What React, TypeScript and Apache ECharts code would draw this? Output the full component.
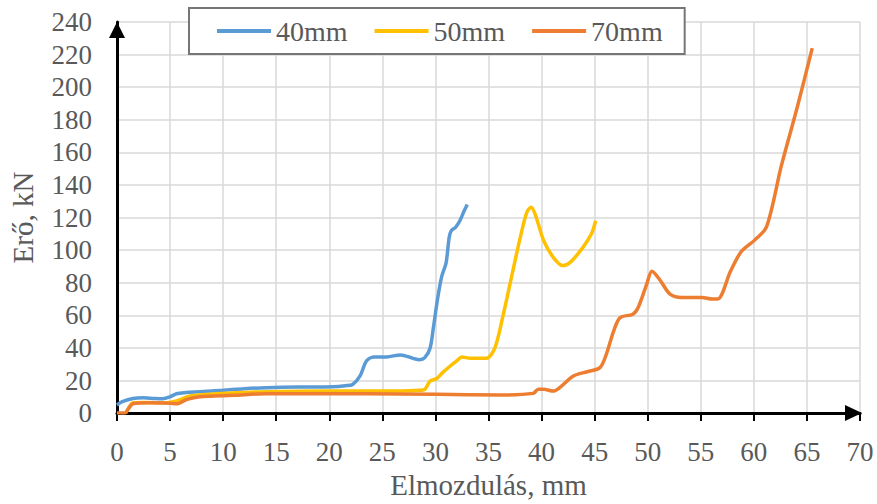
import React, { useEffect, useRef } from "react";
import * as echarts from "echarts";

const seriesNames = ["40mm", "50mm", "70mm"];

const x40 = [0, 0.5, 1.5, 2.5, 3.5, 4.3, 5.0, 5.6, 6.5, 7.8, 10, 12, 14.1, 17, 20.4, 21.5, 22.2, 22.9, 23.5, 24.2, 25.4, 26.7, 27.9, 28.5, 29.0, 29.5, 29.8, 30.2, 30.6, 31.0, 31.3, 31.5, 31.9, 32.3, 32.7, 33.0];
const y40 = [5, 7, 9, 9.4, 9, 8.8, 10, 11.9, 12.6, 13.1, 14, 15, 15.6, 16, 16.2, 16.8, 17.6, 22.8, 32, 34.5, 34.5, 35.7, 33.6, 32.8, 34, 40, 52, 70, 84, 92, 108, 112, 114, 118, 124, 128];

const x50 = [0.8, 1.1, 1.5, 2.5, 4.7, 5.6, 6.9, 9.4, 14.1, 20, 26.7, 28.5, 29.0, 29.5, 30.1, 30.7, 31.4, 32.0, 32.5, 33.3, 34.8, 35.6, 36.4, 37.3, 38.0, 38.6, 39.0, 39.4, 40.2, 41.1, 42.0, 42.7, 43.9, 44.7, 45.1];
const y50 = [0, 3, 6.3, 6.5, 6.3, 7.4, 10.5, 11.9, 13.1, 13.5, 13.5, 14, 14.6, 19.7, 21.1, 25, 28.9, 32, 34.5, 33.6, 33.6, 40, 60.7, 87.4, 108, 123, 126.3, 122, 105.8, 95.6, 90.5, 92.5, 101.7, 110, 118];

const x70 = [0, 0.75, 1.1, 1.5, 3.1, 5.0, 5.6, 6.6, 7.8, 11.0, 14.1, 23.5, 30, 36.1, 39.2, 39.7, 40.2, 41.1, 41.7, 43, 44.3, 45.5, 46.1, 46.8, 47.4, 48.6, 49.1, 49.9, 50.4, 51.2, 52.1, 53.2, 55.1, 56.1, 56.6, 57.8, 58.8, 60.1, 61.2, 62.6, 64.1, 65.5];
const y70 = [0, 0, 3, 5.7, 6.3, 6, 5.7, 8.4, 10, 10.9, 11.9, 11.9, 11.5, 11.1, 12.1, 14.6, 14.6, 13.5, 15.6, 22.8, 25.4, 27.9, 36.1, 50.5, 58.6, 60.7, 64.8, 79, 87, 81.2, 73, 71, 71, 70, 70, 87, 99, 106.3, 114.4, 152, 188, 224];

const xTitle = "Elmozdulás, mm";
const yTitle = "Erő, kN";
const colors = ["#5b9bd5", "#ffc000", "#ed7d31"];

const FONT = "'Liberation Serif', 'Times New Roman', serif";

function pairs(xs: number[], ys: number[]) {
  return xs.map((x, i) => [x, ys[i]]);
}

export default function App() {
  const ref = useRef<HTMLDivElement>(null);
  useEffect(() => {
    if (!ref.current) return;
    const chart = echarts.init(ref.current, undefined, { renderer: "svg" });
    const data = [pairs(x40, y40), pairs(x50, y50), pairs(x70, y70)];
    chart.setOption({
      animation: false,
      backgroundColor: "#ffffff",
      textStyle: { fontFamily: FONT },
      grid: { left: 117, right: 17, top: 22, bottom: 90, containLabel: false },
      legend: {
        data: seriesNames,
        left: 189,
        top: 8,
        padding: [7, 22, 7, 28],
        itemGap: 27,
        itemWidth: 54,
        itemHeight: 4,
        icon: "rect",
        borderColor: "#767676",
        borderWidth: 2,
        backgroundColor: "#ffffff",
        textStyle: { fontFamily: FONT, fontSize: 28, color: "#595959", lineHeight: 32 },
      },
      xAxis: {
        type: "value",
        min: 0,
        max: 70,
        interval: 5,
        name: xTitle,
        nameLocation: "middle",
        nameGap: 54,
        nameTextStyle: { fontFamily: FONT, fontSize: 29, color: "#595959" },
        axisLine: {
          show: true,
          symbol: ["none", "triangle"],
          symbolSize: [16, 17],
          symbolOffset: [0, -6.5],
          lineStyle: { color: "#000000", width: 3 },
        },
        axisTick: { show: true, length: 8, lineStyle: { color: "#000000", width: 2 } },
        axisLabel: { fontFamily: FONT, fontSize: 27, color: "#595959", margin: 25 },
        splitLine: { show: true, lineStyle: { color: "#d9d9d9", width: 1.5 } },
      },
      yAxis: {
        type: "value",
        min: 0,
        max: 240,
        interval: 20,
        name: yTitle,
        nameLocation: "middle",
        nameGap: 80,
        nameRotate: 90,
        nameTextStyle: { fontFamily: FONT, fontSize: 29, color: "#595959" },
        axisLine: {
          show: true,
          symbol: ["none", "triangle"],
          symbolSize: [16, 16],
          symbolOffset: [0, -8],
          lineStyle: { color: "#000000", width: 3 },
        },
        axisTick: { show: false },
        axisLabel: { fontFamily: FONT, fontSize: 27, color: "#595959", margin: 25 },
        splitLine: { show: true, lineStyle: { color: "#d9d9d9", width: 1.5 } },
      },
      series: seriesNames.map((name, i) => ({
        name,
        type: "line",
        data: data[i],
        smooth: 0.3,
        showSymbol: false,
        symbol: "none",
        color: colors[i],
        lineStyle: { color: colors[i], width: 3.5 },
        z: 3 + i,
      })),
    });
    return () => chart.dispose();
  }, []);
  return <div ref={ref} style={{ position: "fixed", left: 0, top: 0, width: 877, height: 504 }} />;
}
